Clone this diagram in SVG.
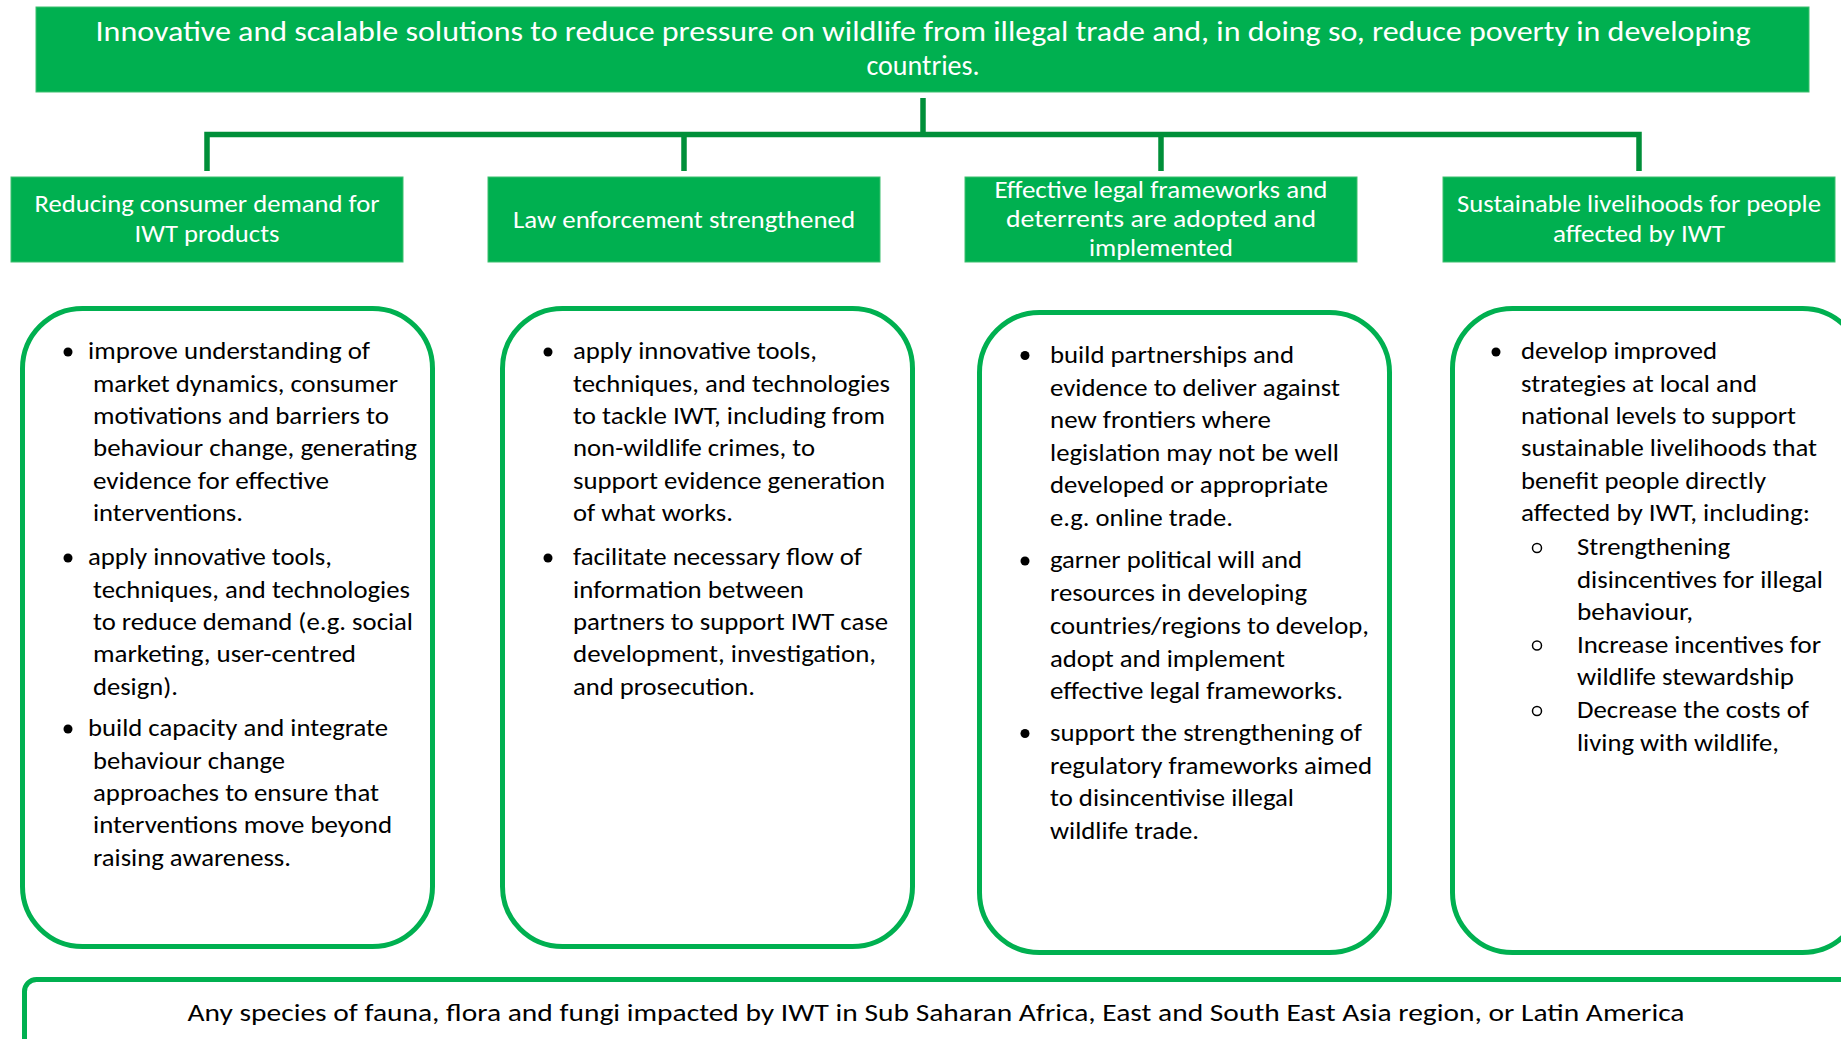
<svg xmlns="http://www.w3.org/2000/svg" width="1841" height="1039" viewBox="0 0 1841 1039">
<style>
.hdr{fill:#00b050;stroke:#3cc06e;stroke-width:1}
.wt{font-family:Carlito,Calibri,Lato,"Open Sans",sans-serif;fill:#ffffff;text-anchor:middle}
.card{fill:#ffffff;stroke:#00b050;stroke-width:5}
.bt{font-family:Carlito,Calibri,Lato,"Open Sans",sans-serif;font-size:25px;fill:#000000}
.dot{fill:#000000}
.ring{fill:none;stroke:#000000;stroke-width:1.5}
.conn{fill:none;stroke:#008f39;stroke-width:5.5;stroke-linejoin:miter;stroke-linecap:butt}
</style>
<rect width="1841" height="1039" fill="#ffffff"/>

<g id="goal">
<rect class="hdr" x="36" y="7" width="1773" height="85"/>
<text class="wt" font-size="28" x="923" y="41" textLength="1655" lengthAdjust="spacingAndGlyphs">Innovative and scalable solutions to reduce pressure on wildlife from illegal trade and, in doing so, reduce poverty in developing</text>
<text class="wt" font-size="28" x="923" y="75">countries.</text>
</g>

<g id="connectors">
<path class="conn" d="M923 98 V134.5"/>
<path class="conn" d="M207 171 V134.5 H1639 V171"/>
<path class="conn" d="M684 134.5 V171"/>
<path class="conn" d="M1161 134.5 V171"/>
</g>

<g id="outcome1">
<rect class="hdr" x="11" y="177" width="392" height="85"/>
<text class="wt" font-size="24" x="207" y="212" textLength="345" lengthAdjust="spacingAndGlyphs">Reducing consumer demand for</text>
<text class="wt" font-size="24" x="207" y="242" textLength="145" lengthAdjust="spacingAndGlyphs">IWT products</text>
</g>
<g id="outcome2">
<rect class="hdr" x="488" y="177" width="392" height="85"/>
<text class="wt" font-size="24" x="684" y="228" textLength="342" lengthAdjust="spacingAndGlyphs">Law enforcement strengthened</text>
</g>
<g id="outcome3">
<rect class="hdr" x="965" y="177" width="392" height="85"/>
<text class="wt" font-size="24" x="1161" y="198" textLength="333" lengthAdjust="spacingAndGlyphs">Effective legal frameworks and</text>
<text class="wt" font-size="24" x="1161" y="227" textLength="310" lengthAdjust="spacingAndGlyphs">deterrents are adopted and</text>
<text class="wt" font-size="24" x="1161" y="256" textLength="144" lengthAdjust="spacingAndGlyphs">implemented</text>
</g>
<g id="outcome4">
<rect class="hdr" x="1443" y="177" width="392" height="85"/>
<text class="wt" font-size="24" x="1639" y="212" textLength="364" lengthAdjust="spacingAndGlyphs">Sustainable livelihoods for people</text>
<text class="wt" font-size="24" x="1639" y="242" textLength="172" lengthAdjust="spacingAndGlyphs">affected by IWT</text>
</g>

<g id="activities1">
<rect class="card" x="22.5" y="308.5" width="410" height="638" rx="60"/>
<circle class="dot" cx="68" cy="352" r="4.5"/>
<circle class="dot" cx="68" cy="558" r="4.5"/>
<circle class="dot" cx="68" cy="729" r="4.5"/>
<text class="bt" x="88" y="359" textLength="282" lengthAdjust="spacingAndGlyphs">improve understanding of</text>
<text class="bt" x="93" y="391.5" textLength="305" lengthAdjust="spacingAndGlyphs">market dynamics, consumer</text>
<text class="bt" x="93" y="424" textLength="296" lengthAdjust="spacingAndGlyphs">motivations and barriers to</text>
<text class="bt" x="93" y="456" textLength="324" lengthAdjust="spacingAndGlyphs">behaviour change, generating</text>
<text class="bt" x="93" y="488.5" textLength="236" lengthAdjust="spacingAndGlyphs">evidence for effective</text>
<text class="bt" x="93" y="521" textLength="150" lengthAdjust="spacingAndGlyphs">interventions.</text>
<text class="bt" x="88" y="565" textLength="244" lengthAdjust="spacingAndGlyphs">apply innovative tools,</text>
<text class="bt" x="93" y="597.5" textLength="317" lengthAdjust="spacingAndGlyphs">techniques, and technologies</text>
<text class="bt" x="93" y="630" textLength="320" lengthAdjust="spacingAndGlyphs">to reduce demand (e.g. social</text>
<text class="bt" x="93" y="662" textLength="263" lengthAdjust="spacingAndGlyphs">marketing, user-centred</text>
<text class="bt" x="93" y="694.5" textLength="85" lengthAdjust="spacingAndGlyphs">design).</text>
<text class="bt" x="88" y="736" textLength="300" lengthAdjust="spacingAndGlyphs">build capacity and integrate</text>
<text class="bt" x="93" y="768.5" textLength="192" lengthAdjust="spacingAndGlyphs">behaviour change</text>
<text class="bt" x="93" y="801" textLength="286" lengthAdjust="spacingAndGlyphs">approaches to ensure that</text>
<text class="bt" x="93" y="833" textLength="299" lengthAdjust="spacingAndGlyphs">interventions move beyond</text>
<text class="bt" x="93" y="865.5" textLength="198" lengthAdjust="spacingAndGlyphs">raising awareness.</text>
</g>

<g id="activities2">
<rect class="card" x="502.5" y="308.5" width="410" height="638" rx="60"/>
<circle class="dot" cx="548" cy="352" r="4.5"/>
<circle class="dot" cx="548" cy="558" r="4.5"/>
<text class="bt" x="573" y="359" textLength="244" lengthAdjust="spacingAndGlyphs">apply innovative tools,</text>
<text class="bt" x="573" y="391.5" textLength="317" lengthAdjust="spacingAndGlyphs">techniques, and technologies</text>
<text class="bt" x="573" y="424" textLength="312" lengthAdjust="spacingAndGlyphs">to tackle IWT, including from</text>
<text class="bt" x="573" y="456" textLength="242" lengthAdjust="spacingAndGlyphs">non-wildlife crimes, to</text>
<text class="bt" x="573" y="488.5" textLength="312" lengthAdjust="spacingAndGlyphs">support evidence generation</text>
<text class="bt" x="573" y="521" textLength="160" lengthAdjust="spacingAndGlyphs">of what works.</text>
<text class="bt" x="573" y="565" textLength="289" lengthAdjust="spacingAndGlyphs">facilitate necessary flow of</text>
<text class="bt" x="573" y="597.5" textLength="231" lengthAdjust="spacingAndGlyphs">information between</text>
<text class="bt" x="573" y="630" textLength="315" lengthAdjust="spacingAndGlyphs">partners to support IWT case</text>
<text class="bt" x="573" y="662" textLength="303" lengthAdjust="spacingAndGlyphs">development, investigation,</text>
<text class="bt" x="573" y="694.5" textLength="182" lengthAdjust="spacingAndGlyphs">and prosecution.</text>
</g>

<g id="activities3">
<rect class="card" x="979.5" y="312.5" width="410" height="640" rx="60"/>
<circle class="dot" cx="1025" cy="355.5" r="4.5"/>
<circle class="dot" cx="1025" cy="561" r="4.5"/>
<circle class="dot" cx="1025" cy="733.5" r="4.5"/>
<text class="bt" x="1050" y="362.5" textLength="244" lengthAdjust="spacingAndGlyphs">build partnerships and</text>
<text class="bt" x="1050" y="395.5" textLength="290" lengthAdjust="spacingAndGlyphs">evidence to deliver against</text>
<text class="bt" x="1050" y="428" textLength="221" lengthAdjust="spacingAndGlyphs">new frontiers where</text>
<text class="bt" x="1050" y="461" textLength="289" lengthAdjust="spacingAndGlyphs">legislation may not be well</text>
<text class="bt" x="1050" y="493" textLength="278" lengthAdjust="spacingAndGlyphs">developed or appropriate</text>
<text class="bt" x="1050" y="525.5" textLength="183" lengthAdjust="spacingAndGlyphs">e.g. online trade.</text>
<text class="bt" x="1050" y="568" textLength="252" lengthAdjust="spacingAndGlyphs">garner political will and</text>
<text class="bt" x="1050" y="601" textLength="257" lengthAdjust="spacingAndGlyphs">resources in developing</text>
<text class="bt" x="1050" y="633.5" textLength="319" lengthAdjust="spacingAndGlyphs">countries/regions to develop,</text>
<text class="bt" x="1050" y="666.5" textLength="235" lengthAdjust="spacingAndGlyphs">adopt and implement</text>
<text class="bt" x="1050" y="698.5" textLength="293" lengthAdjust="spacingAndGlyphs">effective legal frameworks.</text>
<text class="bt" x="1050" y="740.5" textLength="312" lengthAdjust="spacingAndGlyphs">support the strengthening of</text>
<text class="bt" x="1050" y="773.5" textLength="322" lengthAdjust="spacingAndGlyphs">regulatory frameworks aimed</text>
<text class="bt" x="1050" y="806" textLength="244" lengthAdjust="spacingAndGlyphs">to disincentivise illegal</text>
<text class="bt" x="1050" y="839" textLength="149" lengthAdjust="spacingAndGlyphs">wildlife trade.</text>
</g>

<g id="activities4">
<rect class="card" x="1452.5" y="308.5" width="410" height="644" rx="60"/>
<circle class="dot" cx="1496" cy="352" r="4.5"/>
<circle class="ring" cx="1537" cy="548" r="4.5"/>
<circle class="ring" cx="1537" cy="645.5" r="4.5"/>
<circle class="ring" cx="1537" cy="711" r="4.5"/>
<text class="bt" x="1521" y="359" textLength="196" lengthAdjust="spacingAndGlyphs">develop improved</text>
<text class="bt" x="1521" y="391.5" textLength="236" lengthAdjust="spacingAndGlyphs">strategies at local and</text>
<text class="bt" x="1521" y="424" textLength="275" lengthAdjust="spacingAndGlyphs">national levels to support</text>
<text class="bt" x="1521" y="456" textLength="296" lengthAdjust="spacingAndGlyphs">sustainable livelihoods that</text>
<text class="bt" x="1521" y="488.5" textLength="245" lengthAdjust="spacingAndGlyphs">benefit people directly</text>
<text class="bt" x="1521" y="521" textLength="289" lengthAdjust="spacingAndGlyphs">affected by IWT, including:</text>
<text class="bt" x="1577" y="555" textLength="153" lengthAdjust="spacingAndGlyphs">Strengthening</text>
<text class="bt" x="1577" y="587.5" textLength="246" lengthAdjust="spacingAndGlyphs">disincentives for illegal</text>
<text class="bt" x="1577" y="620" textLength="116" lengthAdjust="spacingAndGlyphs">behaviour,</text>
<text class="bt" x="1577" y="652.5" textLength="244" lengthAdjust="spacingAndGlyphs">Increase incentives for</text>
<text class="bt" x="1577" y="685" textLength="217" lengthAdjust="spacingAndGlyphs">wildlife stewardship</text>
<text class="bt" x="1577" y="718" textLength="232" lengthAdjust="spacingAndGlyphs">Decrease the costs of</text>
<text class="bt" x="1577" y="750.5" textLength="202" lengthAdjust="spacingAndGlyphs">living with wildlife,</text>
</g>

<g id="scope">
<rect class="card" x="24.5" y="979.5" width="1840" height="100" rx="12"/>
<text class="bt" x="936" y="1021" font-size="24" text-anchor="middle" textLength="1497" lengthAdjust="spacingAndGlyphs">Any species of fauna, flora and fungi impacted by IWT in Sub Saharan Africa, East and South East Asia region, or Latin America</text>
</g>
</svg>
